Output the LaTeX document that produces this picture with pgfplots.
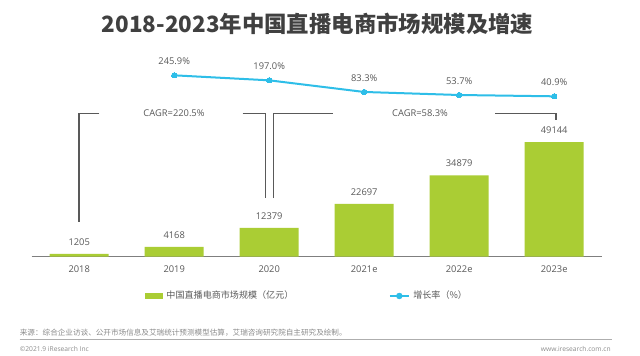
\documentclass[border=0pt]{standalone}
\usepackage{pgfplots}
\pgfplotsset{compat=1.18}
\usepackage{fontspec}
\setmainfont{Open Sans}
\newfontfamily\cjk{Noto Sans CJK SC}
\definecolor{barc}{RGB}{170,205,52}
\definecolor{linec}{RGB}{46,190,232}
\definecolor{txt}{RGB}{89,89,89}
\definecolor{ttl}{RGB}{64,64,64}
\definecolor{brk}{RGB}{89,89,89}
\definecolor{axc}{RGB}{127,127,127}
\definecolor{foot}{RGB}{140,140,140}
\begin{document}
\begin{tikzpicture}[x=0.75pt,y=0.75pt]
\useasboundingbox (0,0) rectangle (640,355);
\fill[white] (0,0) rectangle (640,355);
\node[font=\cjk\bfseries\fontsize{16.8}{18}\selectfont, text=ttl, inner sep=0pt] at (317.6,331.5) {2018-2023年中国直播电商市场规模及增速};

\begin{axis}[
  at={(23.775pt,73.725pt)}, anchor=south west,
  scale only axis, width=427.5pt, height=104.85pt,
  xmin=-0.5, xmax=5.5, ymin=0, ymax=60000,
  axis x line*=bottom, axis y line=none,
  x axis line style={draw=axc, line width=0.75pt, -},
  xtick={0,...,5}, xticklabels={2018,2019,2020,2021e,2022e,2023e},
  ytick=\empty,
  major tick length=0pt,
  xticklabel style={font=\fontsize{7}{8}\selectfont, text=txt, anchor=center, yshift=-9.2pt, inner sep=0pt},
  ybar, bar width=44.25pt,
  clip=false,
  /pgf/number format/assume math mode=true,
  legend style={at={(0.1988,-0.281)}, anchor=west, draw=none, fill=none,
    legend columns=2, inner sep=0pt, outer sep=0pt,
    font=\cjk\fontsize{6.8}{8}\selectfont, text=txt,
    nodes={inner sep=0pt},
    /tikz/every odd column/.append style={column sep=2.6pt},
    /tikz/every even column/.append style={column sep=71.6pt}},
  legend cell align=left,
]
\addplot[fill=barc, draw=none,
  nodes near coords={\pgfmathprintnumber[fixed,precision=0,1000 sep={}]{\pgfplotspointmeta}},
  every node near coord/.append style={font=\fontsize{7}{8}\selectfont, text=txt, anchor=south, inner sep=0pt, yshift=6.1pt},
  legend image code/.code={\fill[barc] (0pt,-2.25pt) rectangle (13.5pt,2.25pt);}
] coordinates {(0,1205) (1,4168) (2,12379) (3,22697) (4,34879) (5,49144)};
\addlegendentry{中国直播电商市场规模（亿元）}
\addlegendimage{legend image code/.code={\draw[linec, line width=1.5pt] (0pt,0pt)--(14.25pt,0pt); \fill[linec] (7.1pt,0pt) circle (2.2pt);}}
\addlegendentry{增长率（\%）}
\end{axis}

\begin{axis}[
  at={(23.775pt,190.875pt)}, anchor=south west,
  scale only axis, width=427.5pt, height=23.04pt,
  xmin=-0.5, xmax=5.5, ymin=0, ymax=300,
  axis lines=none, clip=false,
  /pgf/number format/assume math mode=true,
]
\addplot[linec, line width=1.5pt, mark=*, mark size=2pt, mark options={fill=linec, draw=linec, line width=0pt},
  nodes near coords={\pgfmathprintnumber[fixed,fixed zerofill,precision=1]{\pgfplotspointmeta}\%},
  every node near coord/.append style={font=\fontsize{7}{8}\selectfont, text=txt, anchor=south, inner sep=0pt, yshift=8pt}
] coordinates {(1,245.9) (2,197.0) (3,83.3) (4,53.7) (5,40.9)};
\end{axis}

\begin{scope}[brk, line width=1pt]
\draw (99.3,241.7) -- (79,241.7) -- (79,133.3);
\draw (242.7,241.7) -- (265.7,241.7) -- (265.7,157);
\draw (273.3,157) -- (273.3,241.7) -- (333.3,241.7);
\draw (495,241.7) -- (556,241.7) -- (556,235);
\end{scope}
\node[font=\fontsize{7}{8}\selectfont, text=txt, inner sep=0pt] at (174,242.3) {CAGR=220.5\%};
\node[font=\fontsize{7}{8}\selectfont, text=txt, inner sep=0pt] at (420,242.3) {CAGR=58.3\%};

\node[font=\cjk\fontsize{5.7}{7}\selectfont, text=foot, anchor=west, inner sep=0pt] at (19.6,22.7) {来源：综合企业访谈、公开市场信息及艾瑞统计预测模型估算，艾瑞咨询研究院自主研究及绘制。};
\draw[foot!70, line width=0.75pt] (19.6,15.7) -- (612,15.7);
\node[font=\fontsize{5}{6}\selectfont, text=foot, anchor=west, inner sep=0pt] at (19.6,6) {©2021.9 iResearch Inc};
\node[font=\fontsize{5}{6}\selectfont, text=foot, anchor=east, inner sep=0pt] at (611,6) {www.iresearch.com.cn};
\end{tikzpicture}
\end{document}
